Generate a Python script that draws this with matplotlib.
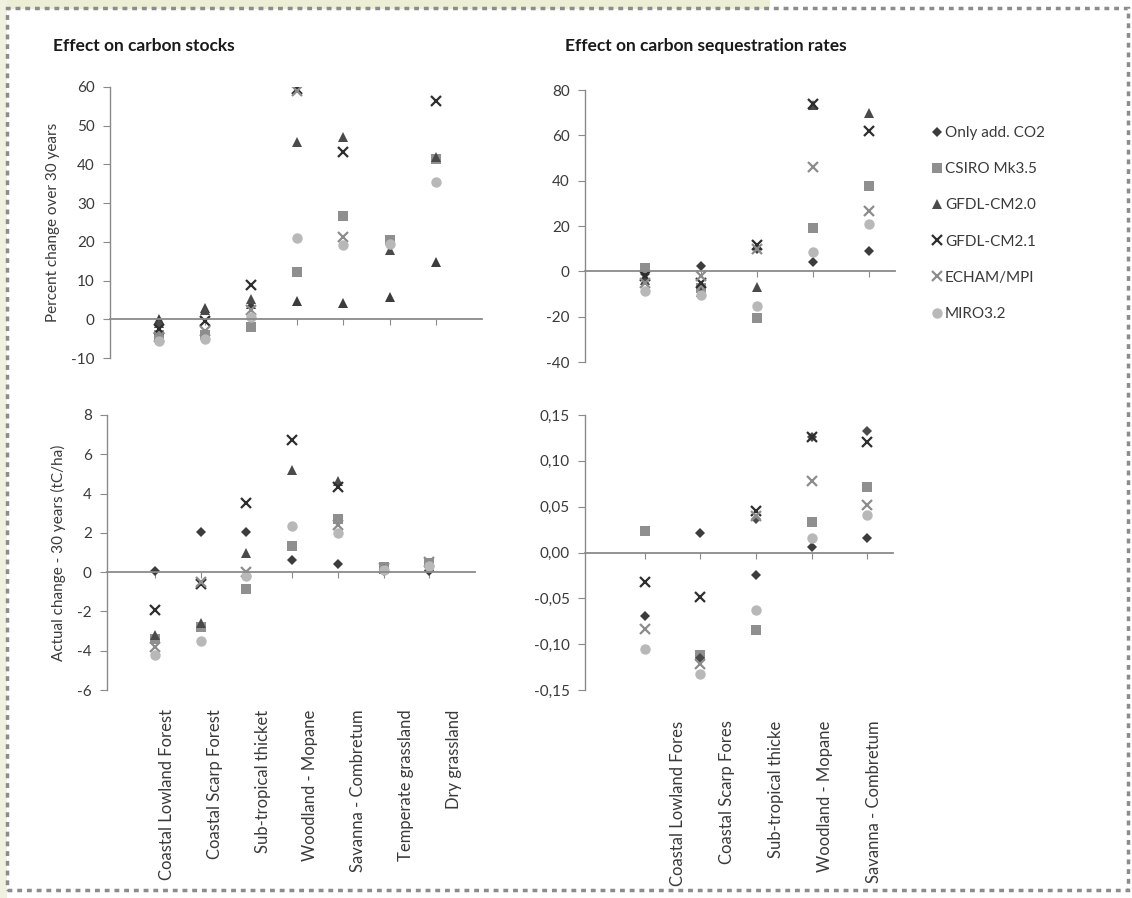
import numpy as np
import matplotlib
matplotlib.use("Agg")
import matplotlib.pyplot as plt
from matplotlib.patches import Rectangle

nan = np.nan

# ---------------- data ----------------
series_names = ["Only add. CO2", "CSIRO Mk3.5", "GFDL-CM2.0", "GFDL-CM2.1", "ECHAM/MPI", "MIRO3.2"]

cats_left = ["Coastal Lowland Forest", "Coastal Scarp Forest", "Sub-tropical thicket",
             "Woodland - Mopane", "Savanna - Combretum", "Temperate grassland", "Dry grassland"]
cats_right = ["Coastal Lowland Fores", "Coastal Scarp Fores", "Sub-tropical thicke",
              "Woodland - Mopane", "Savanna - Combretum"]

# Effect on carbon stocks: percent change over 30 years
stock_pct_only = [0, 3, 4, 4.8, 4.2, 5.8, 14.7]
stock_pct_csiro = [-4, -4, -2, 12.2, 26.8, 20.5, 41.5]
stock_pct_gfdl20 = [-1, 2.5, 5.3, 45.7, 47, 18, 42]
stock_pct_gfdl21 = [-2.5, -0.5, 8.8, 59.5, 43.3, nan, 56.3]
stock_pct_echam = [-4.5, -3, 2.5, 59, 21.3, nan, nan]
stock_pct_miro = [-5.5, -5.2, 0.5, 20.9, 19.3, 19.5, 35.5]

# Effect on carbon stocks: actual change over 30 years (tC/ha)
stock_abs_only = [0.05, 2.05, 2.05, 0.6, 0.42, 0.05, 0.05]
stock_abs_csiro = [-3.4, -2.8, -0.85, 1.35, 2.7, 0.25, 0.45]
stock_abs_gfdl20 = [-3.2, -2.6, 1.0, 5.2, 4.65, 0.15, 0.3]
stock_abs_gfdl21 = [-1.95, -0.6, 3.5, 6.75, 4.35, nan, nan]
stock_abs_echam = [-3.8, -0.5, 0.0, nan, 2.4, 0.2, 0.5]
stock_abs_miro = [-4.2, -3.5, -0.2, 2.35, 2.0, 0.1, 0.3]

# Effect on carbon sequestration rates: percent change
seq_pct_only = [-1, 2.5, 9.8, 4, 8.8]
seq_pct_csiro = [1.5, -7.5, -20.5, 19, 37.5]
seq_pct_gfdl20 = [-4, -9, -7, 73.5, 70]
seq_pct_gfdl21 = [-2, -5, 11.5, 74, 62]
seq_pct_echam = [-5, -2.2, 10, 46, 26.5]
seq_pct_miro = [-8.5, -10.5, -15.5, 8.5, 21]

# Effect on carbon sequestration rates: actual change
seq_abs_only = [-0.069, 0.021, -0.025, 0.006, 0.016]
seq_abs_csiro = [0.023, -0.112, -0.085, 0.033, 0.071]
seq_abs_gfdl20 = [nan, -0.115, 0.037, 0.126, 0.133]
seq_abs_gfdl21 = [-0.032, -0.048, 0.045, 0.126, 0.121]
seq_abs_echam = [-0.083, -0.122, 0.040, 0.078, 0.052]
seq_abs_miro = [-0.105, -0.133, -0.063, 0.016, 0.041]

# ---------------- style ----------------
plt.rcParams['font.family'] = ['Lato', 'DejaVu Sans']
TXT = '#3a3a3a'
AX = '#8a8a8a'

styles = {
    "Only add. CO2": dict(marker='D', color='#3c3c3c', ms=5.5, mew=0),
    "CSIRO Mk3.5": dict(marker='s', color='#8f8f8f', ms=7, mew=0),
    "GFDL-CM2.0": dict(marker='^', color='#4a4a4a', ms=7.5, mew=0),
    "GFDL-CM2.1": dict(marker='x', color='#2e2e2e', ms=6.5, mew=1.6),
    "ECHAM/MPI": dict(marker='x', color='#8c8c8c', ms=6.5, mew=1.6),
    "MIRO3.2": dict(marker='o', color='#b8b8b8', ms=7.5, mew=0),
}

W, H = 1132, 898
fig = plt.figure(figsize=(W / 100, H / 100), dpi=100)
fig.patch.set_facecolor('white')

# pale slide background outside the dashed frame (top-left)
fig.patches.append(Rectangle((0, 1 - 9 / H), 770 / W, 9 / H, transform=fig.transFigure,
                             facecolor='#eceed6', edgecolor='none', zorder=0))
fig.patches.append(Rectangle((0, 0), 7 / W, 1, transform=fig.transFigure,
                             facecolor='#f1f1e2', edgecolor='none', zorder=0))


def px_rect(x0, y0, x1, y1):
    return [x0 / W, 1 - y1 / H, (x1 - x0) / W, (y1 - y0) / H]


def make_panel(rect, cats, data, ylim, yticks, yfmt, xlim, ylabel=None, xlabels=None,
               label_shift=0.0, label_step=1.0, label_pad=14, overrides=None):
    ax = fig.add_axes(rect)
    n = len(cats)
    x = np.arange(1, n + 1)
    overrides = overrides or {}
    handles = []
    for name, vals in zip(series_names, data):
        st = dict(styles[name])
        st.update(overrides.get(name, {}))
        h, = ax.plot(x, vals, linestyle='none', marker=st['marker'], color=st['color'],
                     markersize=st['ms'], markeredgewidth=st['mew'], label=name)
        handles.append(h)
    ax.set_xlim(*xlim)
    ax.set_ylim(*ylim)
    ax.set_yticks(yticks)
    ax.set_yticklabels([yfmt(v) for v in yticks])
    for s in ['top', 'right']:
        ax.spines[s].set_visible(False)
    ax.spines['left'].set_color(AX)
    ax.spines['left'].set_linewidth(1.0)
    ax.spines['bottom'].set_position(('data', 0))
    ax.spines['bottom'].set_color(AX)
    ax.spines['bottom'].set_linewidth(1.3)
    ax.set_xticks(x)
    ax.tick_params(axis='x', direction='out', length=4, color=AX, labelbottom=False)
    ax.tick_params(axis='y', direction='out', length=5, color=AX, labelcolor=TXT,
                   labelsize=11, pad=6)
    if ylabel:
        ax.set_ylabel(ylabel, fontsize=11, color=TXT, labelpad=8)
    if xlabels is not None:
        sec = ax.secondary_xaxis('bottom')
        sec.set_xticks(1 + label_shift + (x - 1) * label_step)
        sec.set_xticklabels(xlabels, rotation=90, fontsize=12, color=TXT, va='top')
        sec.tick_params(length=0, pad=label_pad)
        sec.spines['bottom'].set_visible(False)
    return ax, handles


int_fmt = lambda v: f"{v:g}"
comma_fmt = lambda v: f"{v:.2f}".replace('.', ',')

left_xlim = (-0.05, 8.0)
right_xlim = (-0.07, 5.46)

ax1, _ = make_panel(px_rect(110, 87, 482, 358), cats_left,
                    [stock_pct_only, stock_pct_csiro, stock_pct_gfdl20, stock_pct_gfdl21,
                     stock_pct_echam, stock_pct_miro],
                    (-10, 60), np.arange(-10, 61, 10), int_fmt, left_xlim,
                    ylabel="Percent change over 30 years",
                    overrides={"Only add. CO2": dict(marker='^', ms=7.5, color='#3c3c3c')})

ax2, handles = make_panel(px_rect(585, 90, 895, 362), cats_right,
                          [seq_pct_only, seq_pct_csiro, seq_pct_gfdl20, seq_pct_gfdl21,
                           seq_pct_echam, seq_pct_miro],
                          (-40, 80), np.arange(-40, 81, 20), int_fmt, right_xlim)

ax3, _ = make_panel(px_rect(107, 415, 475, 690), cats_left,
                    [stock_abs_only, stock_abs_csiro, stock_abs_gfdl20, stock_abs_gfdl21,
                     stock_abs_echam, stock_abs_miro],
                    (-6, 8), np.arange(-6, 9, 2), int_fmt, left_xlim,
                    ylabel="Actual change - 30 years (tC/ha)",
                    xlabels=cats_left, label_shift=0.265, label_step=1.045, label_pad=14)

ax4, _ = make_panel(px_rect(585, 415, 893, 690), cats_right,
                    [seq_abs_only, seq_abs_csiro, seq_abs_gfdl20, seq_abs_gfdl21,
                     seq_abs_echam, seq_abs_miro],
                    (-0.15, 0.15), np.round(np.arange(-0.15, 0.151, 0.05), 2), comma_fmt,
                    right_xlim,
                    xlabels=cats_right, label_shift=0.6, label_step=0.88, label_pad=22,
                    overrides={"GFDL-CM2.0": dict(marker='D', ms=5.5)})

# titles
fig.text(53 / W, 1 - 46 / H, "Effect on carbon stocks", fontsize=12.5, fontweight='bold',
         color='#1a1a1a', va='center', ha='left')
fig.text(565 / W, 1 - 46 / H, "Effect on carbon sequestration rates", fontsize=12.5,
         fontweight='bold', color='#1a1a1a', va='center', ha='left')

# legend
leg = fig.legend(handles=handles, loc='upper left', bbox_to_anchor=(926 / W, 1 - 120 / H),
                 frameon=False, fontsize=11, handlelength=0.6, handletextpad=0.25,
                 labelspacing=1.45, borderaxespad=0)
for t in leg.get_texts():
    t.set_color(TXT)

# dashed border
fig.patches.append(Rectangle((7 / W, 1 - 890 / H), (1128 - 7) / W, (890 - 8) / H,
                             transform=fig.transFigure, fill=False, edgecolor='#8c8c8c',
                             linewidth=2.5, linestyle=(0, (1.4, 1.4))))

fig.savefig("out.png", dpi=100, facecolor='white')
